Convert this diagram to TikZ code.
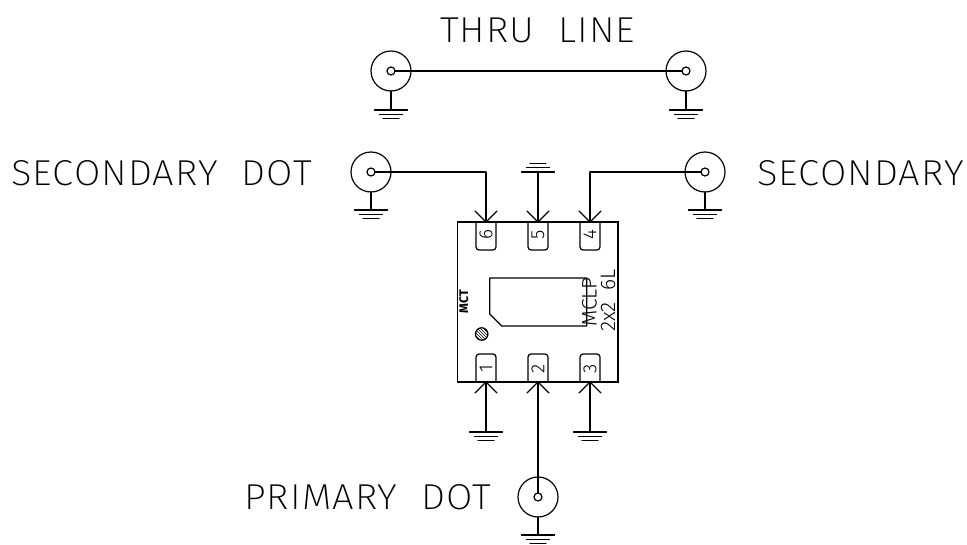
\documentclass[tikz,border=0pt]{standalone}
\usepackage{fontspec}
\setmainfont{Fira Sans ExtraLight}
\newfontfamily\labfont[LetterSpace=3]{Fira Sans ExtraLight}
\newfontfamily\midfont{Fira Sans Light}
\newfontfamily\heavyfont{Fira Sans}
\usetikzlibrary{patterns}
\tikzset{
  x=1pt,y=-1pt,
  wire/.style={line width=1.2pt,line cap=round,line join=round,black},
  conn/.style={circle,draw,line width=1.2pt,minimum size=40pt,inner sep=0pt,outer sep=0pt},
  pinhole/.style={circle,draw,line width=1.2pt,fill=white,minimum size=8pt,inner sep=0pt,outer sep=0pt},
  big/.style={font=\labfont\fontsize{36}{36}\selectfont,inner sep=0pt,anchor=base west,xscale=1.06},
  pinlab/.style={font=\midfont\fontsize{19}{19}\selectfont,inner sep=0pt,rotate=90},
  small/.style={font=\midfont\fontsize{21}{21}\selectfont,inner sep=0pt,rotate=90,anchor=base},
}
\newcommand{\gnd}[3]{% x, y, dir
  \draw[wire] (#1-16.5,#2) -- (#1+16.5,#2);
  \draw[wire] (#1-11.5,#2+#3*4.5) -- (#1+11.5,#2+#3*4.5);
  \draw[wire] (#1-8,#2+#3*8.5) -- (#1+8,#2+#3*8.5);
}
\newcommand{\arrowin}[3]{% x, y, dir
  \draw[wire] (#1-11,#2+#3*11) -- (#1,#2) -- (#1+11,#2+#3*11);
}
\begin{document}
\begin{tikzpicture}
\useasboundingbox (0,0) rectangle (967,544);
% package
\node[draw,line width=1.2pt,minimum width=160.5pt,minimum height=160pt,inner sep=0pt,outer sep=0pt] (pkg) at (537.75,302) {};
\draw[wire] (489.7,278) -- (586.7,278) -- (586.7,326) -- (501.7,326) -- (489.7,314) -- cycle;
\node[circle,draw,line width=1.2pt,minimum size=12.5pt,inner sep=0pt,pattern=north west lines] (dot) at (481.7,334) {};
% pads
\foreach \n/\x in {p6/486,p5/538,p4/590}{
  \draw[wire,rounded corners=3pt] (\x-10,222) -- (\x-10,250) -- (\x+10,250) -- (\x+10,222);
  \coordinate (\n) at (\x,222);
}
\foreach \n/\x in {p1/486,p2/538,p3/590}{
  \draw[wire,rounded corners=3pt] (\x-10,382) -- (\x-10,354) -- (\x+10,354) -- (\x+10,382);
  \coordinate (\n) at (\x,382);
}
\node[pinlab] (n6) at (486,235) {6};
\node[pinlab] (n5) at (538,235) {5};
\node[pinlab] (n4) at (590,235) {4};
\node[pinlab] (n1) at (486,369) {1};
\node[pinlab] (n2) at (538,369) {2};
\node[pinlab] (n3) at (590,369) {3};
\node[font=\heavyfont\bfseries\fontsize{12.5}{12.5}\selectfont,inner sep=0pt,rotate=90,anchor=base] (mct) at (468,301.5) {MCT};
\node[small] (mclp) at (596.7,302) {MCLP};
\node[small] (sz) at (615,300.5) {2x2\ \ 6L};
% connectors
\node[conn] (c1) at (391,71) {};
\node[conn] (c2) at (686,71) {};
\node[conn] (c3) at (371,172) {};
\node[conn] (c4) at (705,172) {};
\node[conn] (c5) at (538,497) {};
\draw[wire] (c1.center) -- (c2.center);
\draw[wire] (c3.center) -| (p6);
\draw[wire] (c4.center) -| (p4);
\draw[wire] (c5.center) -- (p2);
\node[pinhole] (h1) at (c1) {};
\node[pinhole] (h2) at (c2) {};
\node[pinhole] (h3) at (c3) {};
\node[pinhole] (h4) at (c4) {};
\node[pinhole] (h5) at (c5) {};
% grounds
\coordinate (g1) at (391,110);
\coordinate (g2) at (686,110);
\coordinate (g3) at (371,210);
\coordinate (g4) at (705,210);
\coordinate (g5) at (538,535);
\coordinate (g6) at (538,172);
\coordinate (g7) at (486,432);
\coordinate (g8) at (590,432);
\foreach \c/\g in {c1/g1,c2/g2,c3/g3,c4/g4,c5/g5}{\draw[wire] (\c.south) -- (\g);}
\gnd{391}{110}{1}\gnd{686}{110}{1}\gnd{371}{210}{1}\gnd{705}{210}{1}\gnd{538}{535}{1}
\gnd{486}{432}{1}\gnd{590}{432}{1}\gnd{538}{172}{-1}
\draw[wire] (g6) -- (p5);
\draw[wire] (g7) -- (p1);
\draw[wire] (g8) -- (p3);
\arrowin{486}{222}{-1}\arrowin{538}{222}{-1}\arrowin{590}{222}{-1}
\arrowin{486}{382}{1}\arrowin{538}{382}{1}\arrowin{590}{382}{1}
% labels
\node[big] (t1) at (440,42) {THRU\ \ LINE};
\node[big] (t2) at (11,185) {SECONDARY\ \ DOT};
\node[big] (t3) at (757,185) {SECONDARY};
\node[big] (t4) at (244,509) {PRIMARY\ \ DOT};
\end{tikzpicture}
\end{document}
